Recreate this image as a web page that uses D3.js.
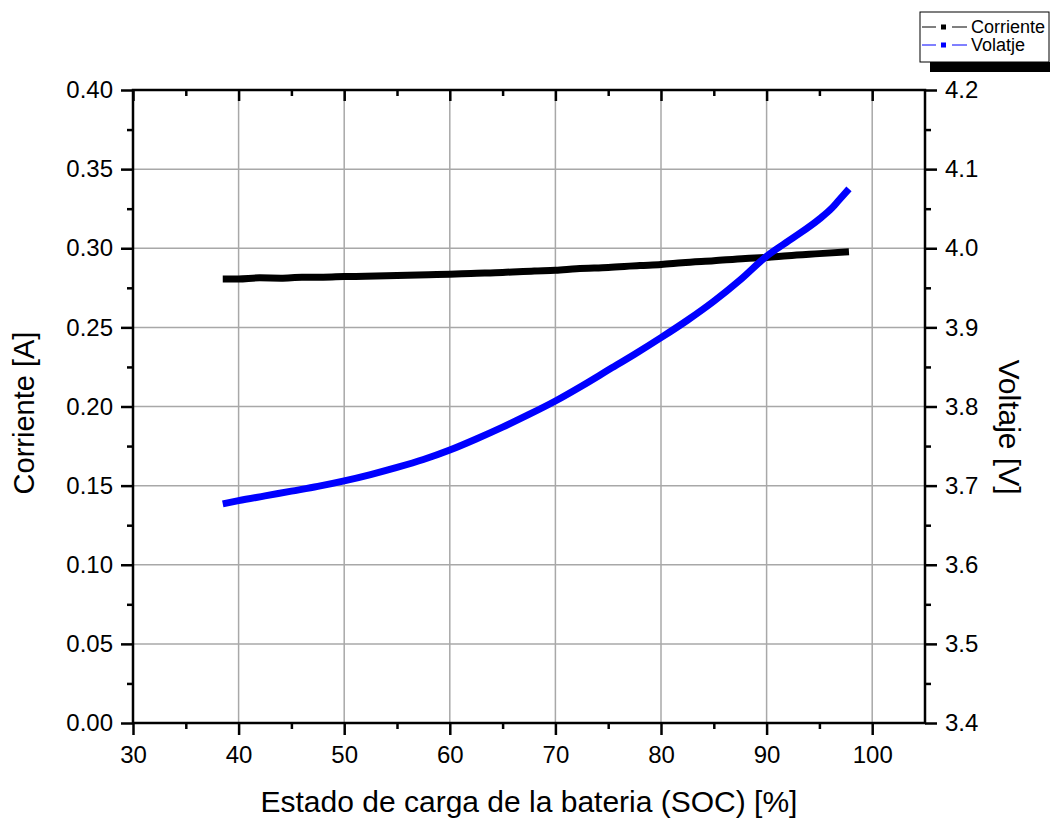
<!DOCTYPE html>
<html>
<head>
<meta charset="utf-8">
<script src="https://cdn.jsdelivr.net/npm/d3@7"></script>
<style>
  body { margin: 0; background: #fff; }
  svg { font-family: Arial, "Liberation Sans", sans-serif; }
</style>
</head>
<body>
<div id="chart"></div>
<script>
// data
const socCorriente = [38.5, 40, 42, 44, 46, 48, 50, 52, 55, 58, 60, 62, 65, 68, 70, 72, 75, 78, 80, 82, 85, 88, 90, 92, 95, 97.8];
const corriente =    [0.2805, 0.2806, 0.2813, 0.2811, 0.2817, 0.2817, 0.2821, 0.2823, 0.2828, 0.2833, 0.2836, 0.2841, 0.2847, 0.2857, 0.2861, 0.2871, 0.2879, 0.2891, 0.2897, 0.2908, 0.2921, 0.2935, 0.2942, 0.2953, 0.2966, 0.2978];

const socVoltaje = [38.5, 40, 42.5, 45, 47.5, 50, 52.5, 55, 57.5, 60, 62.5, 65, 67.5, 70, 72.5, 75, 77.5, 80, 82.5, 85, 87.5, 90, 92.5, 95, 96.2, 96.8, 97.8];
const voltaje =    [3.677, 3.681, 3.687, 3.693, 3.699, 3.706, 3.714, 3.723, 3.733, 3.745, 3.759, 3.774, 3.790, 3.807, 3.826, 3.846, 3.866, 3.887, 3.909, 3.933, 3.960, 3.990, 4.013, 4.037, 4.051, 4.060, 4.075];

const xTicks = [30, 40, 50, 60, 70, 80, 90, 100];
const yLeftTicks = [0, 0.05, 0.10, 0.15, 0.20, 0.25, 0.30, 0.35, 0.40];
const yRightTicks = [3.4, 3.5, 3.6, 3.7, 3.8, 3.9, 4.0, 4.1, 4.2];
const legendLabels = ["Corriente", "Volatje"];
const seriesColors = ["#000000", "#0000ff"];

const width = 1050, height = 818;
const plotL = 133, plotR = 925, plotT = 90, plotB = 723;

const svg = d3.select("#chart").append("svg")
  .attr("width", width).attr("height", height);

const x = d3.scaleLinear().domain([30, 105]).range([plotL, plotR]);
const yL = d3.scaleLinear().domain([0, 0.4]).range([plotB, plotT]);
const yR = d3.scaleLinear().domain([3.4, 4.2]).range([plotB, plotT]);

// grid
const grid = svg.append("g").attr("stroke", "#a8a8a8").attr("stroke-width", 1.5);
grid.selectAll(".gx").data(xTicks.slice(1)).enter().append("line")
  .attr("x1", d => x(d)).attr("x2", d => x(d)).attr("y1", plotT).attr("y2", plotB);
grid.selectAll(".gy").data(yLeftTicks.slice(1, -1)).enter().append("line")
  .attr("x1", plotL).attr("x2", plotR).attr("y1", d => yL(d)).attr("y2", d => yL(d));

// minor tick values
const minorX = d3.range(35, 105, 10);
const minorL = d3.range(0.025, 0.4, 0.05);
const minorR = d3.range(3.45, 4.2, 0.1);

function styleAxis(g) {
  g.select(".domain").remove();
  g.selectAll(".tick line").attr("stroke", "#000").attr("stroke-width", 2.5);
  g.selectAll(".tick text").attr("font-size", 24).attr("fill", "#000");
}

// bottom axis
svg.append("g").attr("transform", `translate(0,${plotB})`)
  .call(d3.axisBottom(x).tickValues(xTicks).tickSize(12).tickPadding(11).tickFormat(d3.format("d")))
  .call(styleAxis);
svg.append("g").attr("transform", `translate(0,${plotB})`)
  .call(d3.axisBottom(x).tickValues(minorX).tickSize(6).tickFormat(""))
  .call(styleAxis);

// top axis, ticks inward
svg.append("g").attr("transform", `translate(0,${plotT})`)
  .call(d3.axisBottom(x).tickValues(xTicks).tickSize(11).tickFormat(""))
  .call(styleAxis);
svg.append("g").attr("transform", `translate(0,${plotT})`)
  .call(d3.axisBottom(x).tickValues(minorX).tickSize(6).tickFormat(""))
  .call(styleAxis);

// left axis
svg.append("g").attr("transform", `translate(${plotL},0)`)
  .call(d3.axisLeft(yL).tickValues(yLeftTicks).tickSize(12).tickPadding(8).tickFormat(d3.format(".2f")))
  .call(styleAxis);
svg.append("g").attr("transform", `translate(${plotL},0)`)
  .call(d3.axisLeft(yL).tickValues(minorL).tickSize(6).tickFormat(""))
  .call(styleAxis);

// right axis
svg.append("g").attr("transform", `translate(${plotR},0)`)
  .call(d3.axisRight(yR).tickValues(yRightTicks).tickSize(12).tickPadding(8).tickFormat(d3.format(".1f")))
  .call(styleAxis);
svg.append("g").attr("transform", `translate(${plotR},0)`)
  .call(d3.axisRight(yR).tickValues(minorR).tickSize(6).tickFormat(""))
  .call(styleAxis);

// frame
svg.append("rect").attr("x", plotL).attr("y", plotT)
  .attr("width", plotR - plotL).attr("height", plotB - plotT)
  .attr("fill", "none").attr("stroke", "#000").attr("stroke-width", 2.5);

// series
const lineC = d3.line().x((d, i) => x(socCorriente[i])).y(d => yL(d)).curve(d3.curveMonotoneX);
const lineV = d3.line().x((d, i) => x(socVoltaje[i])).y(d => yR(d)).curve(d3.curveMonotoneX);

svg.append("path").datum(corriente).attr("d", lineC)
  .attr("fill", "none").attr("stroke", seriesColors[0]).attr("stroke-width", 7);
svg.append("path").datum(voltaje).attr("d", lineV)
  .attr("fill", "none").attr("stroke", seriesColors[1]).attr("stroke-width", 7);

// axis titles
svg.append("text").attr("x", 529).attr("y", 812)
  .attr("text-anchor", "middle").attr("font-size", 30)
  .text("Estado de carga de la bateria (SOC) [%]");
svg.append("text").attr("transform", "translate(34,413) rotate(-90)")
  .attr("text-anchor", "middle").attr("font-size", 29)
  .text("Corriente [A]");
svg.append("text").attr("transform", "translate(999,427) rotate(90)")
  .attr("text-anchor", "middle").attr("font-size", 30)
  .text("Voltaje [V]");

// legend
const lg = svg.append("g");
lg.append("rect").attr("x", 930).attr("y", 62).attr("width", 120).attr("height", 10).attr("fill", "#000");
lg.append("rect").attr("x", 920).attr("y", 12).attr("width", 129).attr("height", 50)
  .attr("fill", "#fff").attr("stroke", "#000").attr("stroke-width", 1);
legendLabels.forEach((lab, i) => {
  const yy = 27 + i * 18;
  lg.append("line").attr("x1", 922).attr("x2", 936).attr("y1", yy).attr("y2", yy)
    .attr("stroke", seriesColors[i]).attr("stroke-width", 1);
  lg.append("line").attr("x1", 952).attr("x2", 967).attr("y1", yy).attr("y2", yy)
    .attr("stroke", seriesColors[i]).attr("stroke-width", 1);
  lg.append("rect").attr("x", 941).attr("y", yy - 2.5).attr("width", 5).attr("height", 5)
    .attr("fill", seriesColors[i]);
  lg.append("text").attr("x", 971).attr("y", yy + 6).attr("font-size", 18).text(lab);
});
</script>
</body>
</html>
